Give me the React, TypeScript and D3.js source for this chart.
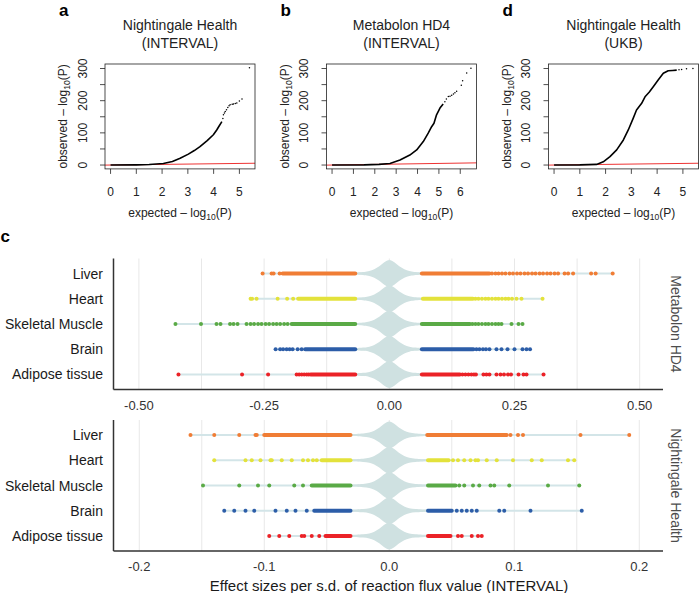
import * as d3 from "d3";

// ---- panels a, b, d: QQ plots (expected vs observed -log10 P) ----
const qqTitleA = ["Nightingale Health", "(INTERVAL)"];
const qqTitleB = ["Metabolon HD4", "(INTERVAL)"];
const qqTitleD = ["Nightingale Health", "(UKB)"];

// dense part of the QQ curve
const qqCurveA: [number, number][] = [
  [0, 0], [1, 0.5], [1.5, 1.5], [2.05, 5], [2.4, 11], [2.7, 21], [3.02, 34], [3.25, 45],
  [3.47, 57], [3.75, 76], [3.99, 94], [4.12, 109], [4.22, 122], [4.32, 135],
];
const qqTailA: [number, number][] = [
  [4.36, 145], [4.38, 156], [4.42, 162], [4.45, 166], [4.5, 172], [4.55, 179], [4.6, 184],
  [4.64, 187], [4.72, 189], [4.77, 190], [4.84, 191], [4.9, 193], [5.0, 199], [5.1, 205], [5.39, 302],
];
const qqCurveB: [number, number][] = [
  [0, 0], [1.5, 0.5], [2.2, 2], [2.71, 5], [3.18, 15.6], [3.64, 31], [3.96, 47], [4.27, 73],
  [4.5, 99], [4.66, 119], [4.77, 130], [4.89, 156], [5.05, 177], [5.2, 190],
];
const qqTailB: [number, number][] = [
  [5.28, 197], [5.35, 205], [5.44, 213], [5.52, 214], [5.6, 217], [5.68, 221], [5.75, 225],
  [5.83, 229], [6.05, 248], [6.11, 262], [6.3, 286], [6.5, 301],
];
const qqCurveD: [number, number][] = [
  [0, 0], [1.0, 0.5], [1.65, 2], [1.91, 10], [2.17, 26], [2.43, 47], [2.69, 78], [2.88, 109],
  [3.07, 145], [3.2, 171], [3.4, 192], [3.53, 212], [3.69, 226], [3.85, 243], [4.04, 264],
  [4.24, 285], [4.43, 293], [4.6, 294], [4.76, 295],
];
const qqTailD: [number, number][] = [[4.85, 296], [4.95, 297], [5.14, 299], [5.39, 300]];

const qqXTicksA = [0, 1, 2, 3, 4, 5];
const qqXTicksB = [0, 1, 2, 3, 4, 5, 6];
const qqXTicksD = [0, 1, 2, 3, 4, 5];
const qqYTicks = [0, 50, 100, 150, 200, 250, 300];
const qqYLabels = [0, 100, 200, 300];

// ---- panel c: effect sizes by tissue ----
const tissues = ["Liver", "Heart", "Skeletal Muscle", "Brain", "Adipose tissue"];
const tissueColors = ["#f07d35", "#e3e23b", "#5aaa46", "#2c5da8", "#eb2227"];

// dense clusters: [negative lo, negative hi, positive lo, positive hi]
const hd4Core: [number, number, number, number][] = [
  [-0.213, -0.068, 0.065, 0.2],
  [-0.182, -0.068, 0.067, 0.167],
  [-0.195, -0.068, 0.065, 0.161],
  [-0.168, -0.068, 0.065, 0.168],
  [-0.157, -0.068, 0.065, 0.141],
];
const hd4Points: number[][] = [
  [-0.253, -0.235, -0.231, -0.219, 0.205, 0.212, 0.218, 0.225, 0.232, 0.24, 0.247, 0.255, 0.262,
    0.27, 0.277, 0.285, 0.292, 0.3, 0.307, 0.315, 0.322, 0.33, 0.337, 0.35, 0.357, 0.367, 0.403, 0.412, 0.446],
  [-0.277, -0.274, -0.265, -0.223, -0.204, -0.192, 0.172, 0.178, 0.185, 0.192, 0.198, 0.205, 0.212,
    0.218, 0.225, 0.232, 0.238, 0.245, 0.254, 0.264, 0.306],
  [-0.427, -0.376, -0.345, -0.337, -0.318, -0.311, -0.303, -0.285, -0.277, -0.27, -0.262, -0.255,
    -0.247, -0.24, -0.232, -0.225, -0.218, -0.21, -0.203, 0.166, 0.172, 0.178, 0.185, 0.192, 0.198,
    0.205, 0.212, 0.218, 0.224, 0.244, 0.258, 0.266],
  [-0.227, -0.218, -0.212, -0.205, -0.199, -0.193, -0.183, -0.175, 0.174, 0.18, 0.187, 0.193, 0.2,
    0.214, 0.224, 0.236, 0.25, 0.266, 0.274, 0.281],
  [-0.421, -0.294, -0.242, -0.185, -0.18, -0.175, -0.17, -0.165, -0.161, 0.146, 0.152, 0.158, 0.164,
    0.169, 0.173, 0.188, 0.194, 0.2, 0.214, 0.222, 0.229, 0.237, 0.243, 0.258, 0.268, 0.274, 0.308],
];
const nhCore: [number, number, number, number][] = [
  [-0.1, -0.031, 0.0304, 0.094],
  [-0.054, -0.031, 0.031, 0.0475],
  [-0.062, -0.031, 0.031, 0.053],
  [-0.06, -0.031, 0.031, 0.05],
  [-0.051, -0.031, 0.031, 0.049],
];
const nhPoints: number[][] = [
  [-0.159, -0.14, -0.12, -0.107, -0.106, 0.097, 0.103, 0.107, 0.153, 0.192],
  [-0.14, -0.115, -0.11, -0.103, -0.095, -0.094, -0.086, -0.078, -0.069, -0.065, -0.061, -0.058,
    0.051, 0.055, 0.06, 0.065, 0.069, 0.071, 0.078, 0.086, 0.099, 0.114, 0.122, 0.143, 0.148],
  [-0.149, -0.12, -0.105, -0.096, -0.076, -0.069, 0.056, 0.06, 0.067, 0.072, 0.081, 0.084, 0.096,
    0.127, 0.152],
  [-0.132, -0.124, -0.115, -0.108, -0.091, -0.082, -0.075, -0.066, 0.054, 0.058, 0.062, 0.066, 0.07,
    0.088, 0.092, 0.113, 0.154],
  [-0.096, -0.088, -0.08, -0.07, -0.068, -0.062, -0.056, 0.055, 0.058, 0.066, 0.071, 0.074],
];
// violin profile of all reactions: [effect, relative density]
const hd4Violin: [number, number][] = [
  [-0.072, 0], [-0.05, 0.05], [-0.04, 0.12], [-0.03, 0.26], [-0.02, 0.5], [-0.01, 0.82], [0, 1],
  [0.01, 0.82], [0.02, 0.5], [0.03, 0.26], [0.04, 0.12], [0.05, 0.05], [0.072, 0],
];
const nhViolin: [number, number][] = [
  [-0.03, 0], [-0.021, 0.05], [-0.016, 0.12], [-0.012, 0.26], [-0.008, 0.5], [-0.004, 0.82], [0, 1],
  [0.004, 0.82], [0.008, 0.5], [0.012, 0.26], [0.016, 0.12], [0.021, 0.05], [0.03, 0],
];
const hd4Ticks = [-0.5, -0.25, 0, 0.25, 0.5];
const nhTicks = [-0.2, -0.1, 0, 0.1, 0.2];

const FONT = "'Liberation Sans', Arial, Helvetica, sans-serif";

function Log10Label({ x, y, prefix, rotate }: { x: number; y: number; prefix: string; rotate?: boolean }) {
  return (
    <text
      transform={`translate(${x},${y})${rotate ? " rotate(-90)" : ""}`}
      textAnchor="middle"
      fontSize={12}
      fill="#222"
    >
      {prefix} – log
      <tspan fontSize={8.5} dy={3}>10</tspan>
      <tspan dy={-3}>(P)</tspan>
    </text>
  );
}

function QQPanel({ letter, title, left, curve, tail, xTicks }: {
  letter: string; title: string[]; left: number; curve: [number, number][];
  tail: [number, number][]; xTicks: number[];
}) {
  const all = curve.concat(tail);
  const xMax = d3.max(all, (d) => d[0]) as number;
  const w = 150;
  const top = 64, bottom = 168.9;
  const x = d3.scaleLinear().domain([-0.04 * xMax, 1.04 * xMax]).range([left, left + w]);
  const y = d3.scaleLinear().domain([-12, 314]).range([bottom, top]);
  const line = d3.line<[number, number]>().x((d) => x(d[0])).y((d) => y(d[1]));
  const cx = left + w / 2;
  const [d0, d1] = x.domain();
  return (
    <g>
      <text x={left - 46} y={16} fontSize={17} fontWeight="bold" fill="#000">{letter}</text>
      <text x={cx} y={30} textAnchor="middle" fontSize={14} fill="#222">{title[0]}</text>
      <text x={cx} y={48} textAnchor="middle" fontSize={14} fill="#222">{title[1]}</text>
      <line x1={x(d0)} x2={x(d1)} y1={y(d0)} y2={y(d1)} stroke="#ee3333" strokeWidth={1} />
      <path d={line(curve) || ""} fill="none" stroke="#000" strokeWidth={1.6} strokeLinejoin="round" />
      {tail.map((d, i) => (
        <circle key={i} cx={x(d[0])} cy={y(d[1])} r={0.75} fill="#000" />
      ))}
      <rect x={left} y={top} width={w} height={bottom - top} fill="none" stroke="#222" strokeWidth={0.8} />
      {xTicks.map((t) => (
        <g key={t}>
          <line x1={x(t)} x2={x(t)} y1={bottom} y2={bottom + 5} stroke="#222" strokeWidth={0.8} />
          <text x={x(t)} y={196} textAnchor="middle" fontSize={12} fill="#222">{t}</text>
        </g>
      ))}
      {qqYTicks.map((t) => (
        <line key={t} x1={left - 5} x2={left} y1={y(t)} y2={y(t)} stroke="#222" strokeWidth={0.8} />
      ))}
      {qqYLabels.map((t) => (
        <text key={t} transform={`translate(${left - 18.5},${y(t)}) rotate(-90)`} textAnchor="middle" fontSize={12} fill="#222">{t}</text>
      ))}
      <Log10Label x={cx} y={217} prefix="expected" />
      <Log10Label x={left - 38} y={(top + bottom) / 2} prefix="observed" rotate />
    </g>
  );
}

function fmtTick(v: number, digits: number) {
  return v.toFixed(digits);
}

function Facet({ top, bottom, xDomain, ticks, digits, strip, core, points, violin, labelY }: {
  top: number; bottom: number; xDomain: [number, number]; ticks: number[]; digits: number;
  strip: string; core: [number, number, number, number][]; points: number[][];
  violin: [number, number][]; labelY: number;
}) {
  const left = 113.5, right = 663;
  const x = d3.scaleLinear().domain(xDomain).range([left, right]);
  const y = d3.scalePoint<string>().domain(tissues).range([top, bottom]).padding(0.6);
  const minors = ticks.slice(1).map((t, i) => (t + ticks[i]) / 2);
  const half = 12.5;
  return (
    <g>
      {ticks.concat(minors).map((t, i) => (
        <line key={i} x1={x(t)} x2={x(t)} y1={top} y2={bottom} stroke="#e8e8e8" strokeWidth={1} />
      ))}
      {tissues.map((name, i) => {
        const cy = y(name) as number;
        const vals = points[i].concat(core[i]);
        const lo = d3.min(vals) as number;
        const hi = d3.max(vals) as number;
        const area = d3
          .area<[number, number]>()
          .x((d) => x(d[0]))
          .y0((d) => cy - d[1] * half - 1)
          .y1((d) => cy + d[1] * half + 1)
          .curve(d3.curveCatmullRom);
        const c = core[i];
        return (
          <g key={name}>
            <line x1={x(lo)} x2={x(hi)} y1={cy} y2={cy} stroke="#d3e5e8" strokeWidth={2} />
            <path d={area(violin) || ""} fill="#cfe1e1" />
            <line x1={x(c[0])} x2={x(c[1])} y1={cy} y2={cy} stroke={tissueColors[i]} strokeWidth={4} strokeLinecap="round" />
            <line x1={x(c[2])} x2={x(c[3])} y1={cy} y2={cy} stroke={tissueColors[i]} strokeWidth={4} strokeLinecap="round" />
            {points[i].map((v, j) => (
              <circle key={j} cx={x(v)} cy={cy} r={2} fill={tissueColors[i]} />
            ))}
            <text x={103} y={cy + 5} textAnchor="end" fontSize={14} fill="#1a1a1a">{name}</text>
          </g>
        );
      })}
      <line x1={left} x2={left} y1={top} y2={bottom} stroke="#333" strokeWidth={1.5} />
      <line x1={left} x2={right} y1={bottom} y2={bottom} stroke="#333" strokeWidth={1.5} />
      {ticks.map((t) => (
        <text key={t} x={x(t)} y={labelY} textAnchor="middle" fontSize={13} fill="#333">{fmtTick(t, digits)}</text>
      ))}
      <text transform={`translate(671,${(top + bottom) / 2}) rotate(90)`} textAnchor="middle" fontSize={14} fill="#4d4d4d">{strip}</text>
    </g>
  );
}

export default function App() {
  return (
    <svg width={699} height={593} style={{ position: "absolute", left: 0, top: 0, background: "#fff" }} fontFamily={FONT}>
      <rect width={699} height={593} fill="#fff" />
      <QQPanel letter="a" title={qqTitleA} left={105} curve={qqCurveA} tail={qqTailA} xTicks={qqXTicksA} />
      <QQPanel letter="b" title={qqTitleB} left={326.5} curve={qqCurveB} tail={qqTailB} xTicks={qqXTicksB} />
      <QQPanel letter="d" title={qqTitleD} left={548.5} curve={qqCurveD} tail={qqTailD} xTicks={qqXTicksD} />
      <text x={0.5} y={242} fontSize={17} fontWeight="bold" fill="#000">c</text>
      <Facet top={258.5} bottom={389.5} xDomain={[-0.5507, 0.5465]} ticks={hd4Ticks} digits={2}
        strip="Metabolon HD4" core={hd4Core} points={hd4Points} violin={hd4Violin} labelY={409.5} />
      <Facet top={420} bottom={551} xDomain={[-0.2206, 0.219]} ticks={nhTicks} digits={1}
        strip="Nightingale Health" core={nhCore} points={nhPoints} violin={nhViolin} labelY={571} />
      <text x={389} y={590.5} textAnchor="middle" fontSize={15} fill="#1a1a1a">
        Effect sizes per s.d. of reaction flux value (INTERVAL)
      </text>
    </svg>
  );
}
